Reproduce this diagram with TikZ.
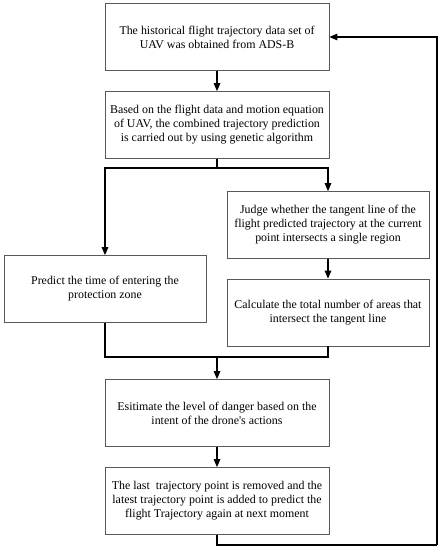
\documentclass[tikz,border=0pt]{standalone}
\usepackage{fontspec}
\setmainfont{Liberation Serif}
\usetikzlibrary{arrows.meta}
\begin{document}
\begin{tikzpicture}[x=1pt,y=1pt,
  box/.style={draw=black!65,line width=0.7pt,minimum width=224pt,minimum height=67pt,align=center,inner sep=2pt,font=\fontsize{11.9}{14}\selectfont},
  sbox/.style={box,minimum width=202pt},
  conn/.style={line width=1.2pt,black},
  arr/.style={conn,-{Triangle[length=8pt,width=6.5pt]}}]
\useasboundingbox (0,0) rectangle (441,-550);
\node[box] (b1) at (217,-37) {The historical flight trajectory data set of\\UAV was obtained from ADS-B};
\node[box] (b2) at (217,-125) {Based on the flight data and motion equation\\of UAV, the combined trajectory prediction\\is carried out by using genetic algorithm};
\node[sbox] (b3) at (105,-289) {Predict the time of entering the\\protection zone};
\node[sbox] (b4) at (328,-225) {Judge whether the tangent line of the\\flight predicted trajectory at the current\\point intersects a single region};
\node[sbox] (b5) at (328,-312.5) {Calculate the total number of areas that\\intersect the tangent line};
\node[box] (b6) at (217,-413) {Esitimate the level of danger based on the\\intent of the drone\textquotesingle s actions};
\node[box] (b7) at (217,-501) {The last\ \ trajectory point is removed and the\\latest trajectory point is added to predict the\\flight Trajectory again at next moment};
\coordinate (split) at (217,-168);
\coordinate (merge) at (217,-357);
\coordinate (fbl) at (217,-545);
\coordinate (fbr) at (437,-545);
\draw[arr] (b1.south) -- (b2.north);
\draw[conn] (b2.south) -- (split);
\draw[arr] (split) -| (b3.north);
\draw[arr] (split) -| (b4.north);
\draw[arr] (b4.south) -- (b5.north);
\draw[conn] (b3.south) |- (merge);
\draw[conn] (b5.south) |- (merge);
\draw[arr] (merge) -- (b6.north);
\draw[arr] (b6.south) -- (b7.north);
\draw[conn] (b7.south) -- (fbl) -- (fbr);
\draw[arr] (fbr) |- (b1.east);
\end{tikzpicture}
\end{document}
